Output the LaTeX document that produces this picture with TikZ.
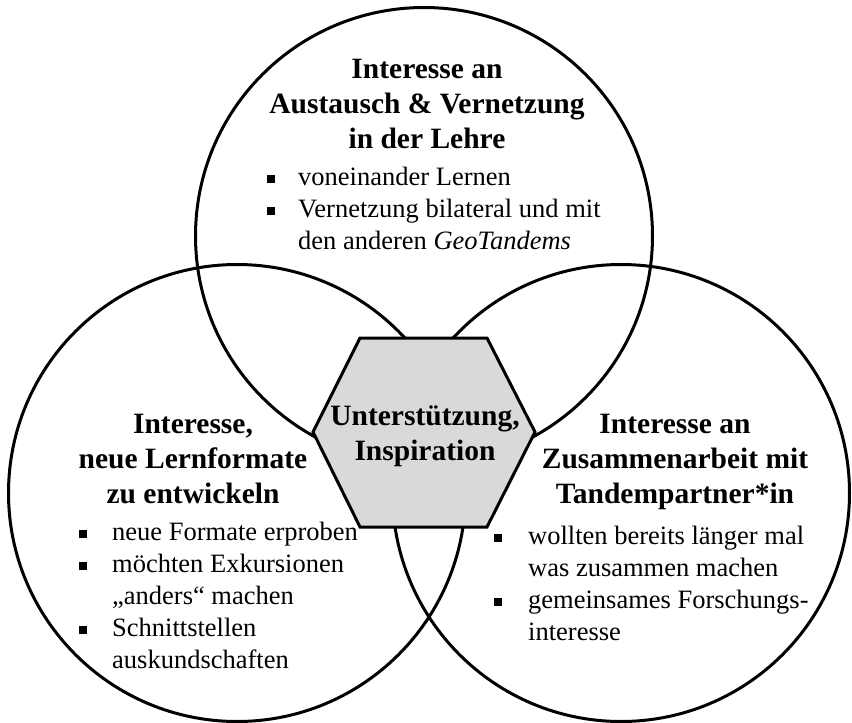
\documentclass[tikz,border=0pt]{standalone}
\usepackage{fontspec}
\setmainfont{Liberation Serif}
\usepackage{xcolor}
\usetikzlibrary{positioning}
\definecolor{hexgray}{HTML}{D9D9D9}
\newcommand{\sqbul}{\rule[2pt]{8pt}{8pt}}
\newcommand{\venn}[3]{
    \node[draw, circle, line width=3pt, inner sep=0pt, minimum size=#3] (#1) at (#2) {};
}
\newcommand{\heading}[3]{
    \node[anchor=base, inner sep=0pt, font={\fontsize{29.5}{35}\selectfont\bfseries}] (#1) at (#2) {\begin{tabular}[t]{@{}c@{}}#3\end{tabular}};
}
\newcommand{\points}[4]{
    \node[anchor=base west, inner sep=0pt, font={\fontsize{26.5}{32}\selectfont}] (#1) at (#2) {\begin{tabular}[t]{@{}p{#3}@{}l@{}}#4\end{tabular}};
}

\begin{document}
\begin{tikzpicture}[x=1pt, y=-1pt]
    \useasboundingbox (0,0) rectangle (852,723);
    \venn{exchange}{424, 236}{457pt}
    \venn{formats}{237, 493}{457pt}
    \venn{partner}{621, 493}{457pt}
    \draw[line width=3pt, fill=hexgray, line join=miter]
    (360,338) -- (487,338) -- (535,432) -- (487,527) -- (360,527) -- (313,432) -- cycle;
    \heading{support}{425, 425}{Unterstützung,\\Inspiration}
    \heading{hexchange}{427, 78}{Interesse an\\Austausch \& Vernetzung\\in der Lehre}
    \heading{hformats}{193, 433}{Interesse,\\neue Lernformate\\zu entwickeln}
    \heading{hpartner}{675, 433}{Interesse an\\Zusammenarbeit mit\\Tandempartner*in}
    \points{pexchange}{267, 185}{31pt}{\sqbul & voneinander Lernen\\ \sqbul & Vernetzung bilateral und mit\\ & den anderen \textit{GeoTandems}}
    \points{pformats}{79, 540}{33pt}{\sqbul & neue Formate erproben\\ \sqbul & möchten Exkursionen\\ & „anders“ machen\\ \sqbul & Schnittstellen\\ & auskundschaften}
    \points{ppartner}{494, 544}{34pt}{\sqbul & wollten bereits länger mal\\ & was zusammen machen\\ \sqbul & gemeinsames Forschungs-\\ & interesse}
\end{tikzpicture}
\end{document}
